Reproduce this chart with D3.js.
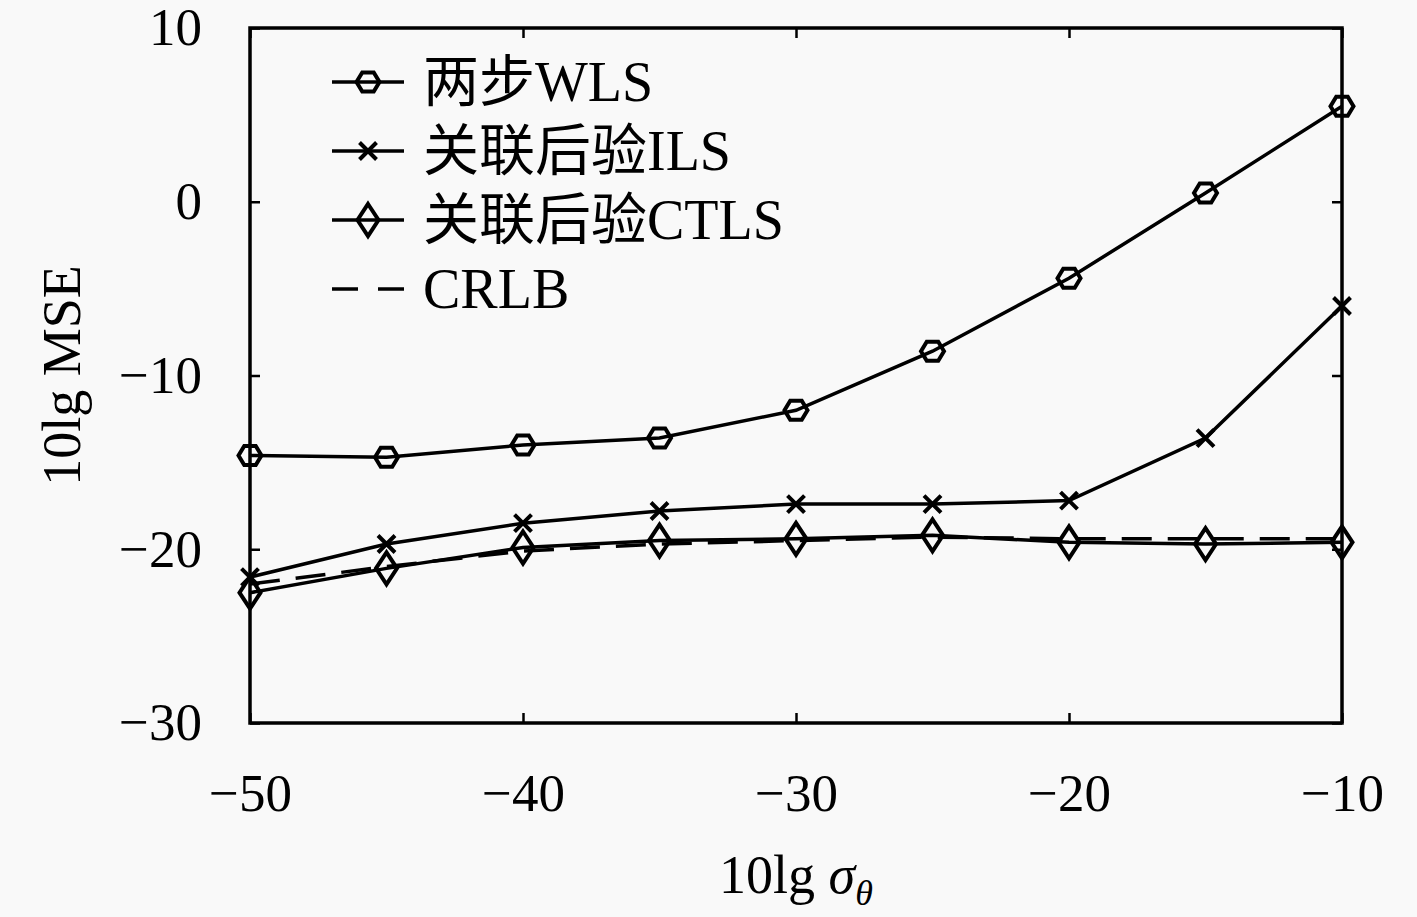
<!DOCTYPE html>
<html>
<head>
<meta charset="utf-8">
<script src="https://cdn.jsdelivr.net/npm/d3@7"></script>
<style>
  body { margin: 0; background: #f9f9f9; }
  svg { display: block; }
  text { font-family: "Liberation Serif", "Noto Sans CJK SC", serif; fill: #000; }
</style>
</head>
<body>
<svg id="chart" width="1417" height="917"></svg>
<script>
// data
var xValues = [-50, -45, -40, -35, -30, -25, -20, -15, -10];
var wls   = [-14.6, -14.7, -14.0, -13.6, -12.0, -8.6, -4.4, 0.5, 5.5];
var ils   = [-21.6, -19.7, -18.5, -17.8, -17.4, -17.4, -17.2, -13.6, -6.0];
var ctls  = [-22.5, -21.1, -19.9, -19.5, -19.4, -19.2, -19.6, -19.7, -19.6];
var crlb  = [-22.0, -21.0, -20.1, -19.7, -19.5, -19.3, -19.4, -19.4, -19.4];
var seriesNames = ['两步WLS', '关联后验ILS', '关联后验CTLS', 'CRLB'];
var seriesMarkers = ['hexagon', 'cross', 'diamond', 'none'];
var xTicks = [-50, -40, -30, -20, -10];
var yTicks = [-30, -20, -10, 0, 10];

var svg = d3.select('#chart');
var plotL = 250, plotR = 1342, plotT = 28, plotB = 723;

var x = d3.scaleLinear().domain([-50, -10]).range([plotL, plotR]);
var y = d3.scaleLinear().domain([-30, 10]).range([plotB, plotT]);

// axes, ticks inward on all four sides
function styleAxis(g) {
  g.select('.domain').remove();
  g.selectAll('.tick line').attr('stroke', '#000').attr('stroke-width', 2.5);
  g.selectAll('.tick text').style('font-size', '53px').attr('fill', '#000');
}
svg.append('g').attr('transform', 'translate(0,' + plotB + ')')
  .call(d3.axisBottom(x).tickValues(xTicks).tickSize(-10).tickPadding(50))
  .call(styleAxis);
svg.append('g').attr('transform', 'translate(0,' + plotT + ')')
  .call(d3.axisTop(x).tickValues(xTicks).tickSize(-10).tickFormat(''))
  .call(styleAxis);
svg.append('g').attr('transform', 'translate(' + plotL + ',0)')
  .call(d3.axisLeft(y).tickValues(yTicks).tickSize(-10).tickPadding(48))
  .call(styleAxis);
svg.append('g').attr('transform', 'translate(' + plotR + ',0)')
  .call(d3.axisRight(y).tickValues(yTicks).tickSize(-10).tickFormat(''))
  .call(styleAxis);

svg.append('rect')
  .attr('x', plotL).attr('y', plotT)
  .attr('width', plotR - plotL).attr('height', plotB - plotT)
  .attr('fill', 'none').attr('stroke', '#000').attr('stroke-width', 3.5);

// axis titles
svg.append('text')
  .attr('x', (plotL + plotR) / 2).attr('y', 893)
  .attr('text-anchor', 'middle').style('font-size', '54px')
  .html('10lg <tspan font-style="italic">σ</tspan><tspan font-style="italic" font-size="36px" dy="12">θ</tspan>');

svg.append('text')
  .attr('transform', 'translate(80,' + ((plotT + plotB) / 2) + ') rotate(-90)')
  .attr('text-anchor', 'middle').style('font-size', '54px')
  .text('10lg MSE');

// markers
function drawMarker(g, type) {
  if (type === 'hexagon') {
    var pts = d3.range(6).map(function (i) {
      var a = i * Math.PI / 3;
      return [11.5 * Math.cos(a), 11 * Math.sin(a)];
    });
    g.append('polygon').attr('points', pts.join(' '))
      .attr('fill', 'none').attr('stroke', '#000').attr('stroke-width', 4);
  } else if (type === 'cross') {
    g.append('path').attr('d', 'M-8.5,-8.5L8.5,8.5M-8.5,8.5L8.5,-8.5')
      .attr('fill', 'none').attr('stroke', '#000').attr('stroke-width', 4);
  } else if (type === 'diamond') {
    g.append('path').attr('d', 'M0,-16L10.5,0L0,16L-10.5,0Z')
      .attr('fill', 'none').attr('stroke', '#000').attr('stroke-width', 4);
  }
}

var allSeries = [wls, ils, ctls, crlb];
var line = d3.line()
  .x(function (d) { return x(d[0]); })
  .y(function (d) { return y(d[1]); });

allSeries.forEach(function (vals, s) {
  var pts = xValues.map(function (xv, i) { return [xv, vals[i]]; });
  svg.append('path').datum(pts)
    .attr('d', line)
    .attr('fill', 'none').attr('stroke', '#000').attr('stroke-width', 3.5)
    .attr('stroke-dasharray', seriesMarkers[s] === 'none' ? '30,16' : null);
  if (seriesMarkers[s] !== 'none') {
    svg.append('g').selectAll('g').data(pts).enter().append('g')
      .attr('transform', function (d) { return 'translate(' + x(d[0]) + ',' + y(d[1]) + ')'; })
      .each(function () { drawMarker(d3.select(this), seriesMarkers[s]); });
  }
});

// legend
var legend = svg.append('g');
var legendY = [82, 151, 220, 289];
seriesNames.forEach(function (name, i) {
  var g = legend.append('g').attr('transform', 'translate(0,' + legendY[i] + ')');
  g.append('line').attr('x1', 332).attr('x2', 404).attr('y1', 0).attr('y2', 0)
    .attr('stroke', '#000').attr('stroke-width', 3.5)
    .attr('stroke-dasharray', seriesMarkers[i] === 'none' ? '26,20' : null);
  var m = g.append('g').attr('transform', 'translate(368,0)');
  drawMarker(m, seriesMarkers[i]);
  g.append('text').attr('x', 423).attr('y', 19).style('font-size', '56px').text(name);
});
</script>
</body>
</html>
